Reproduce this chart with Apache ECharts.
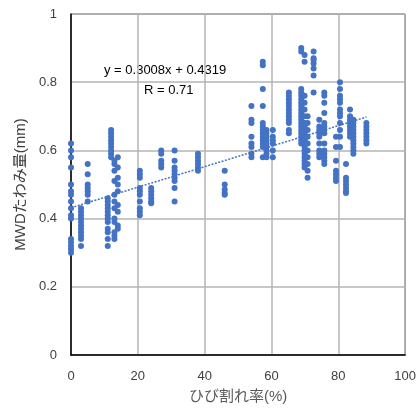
<!DOCTYPE html>
<html><head><meta charset="utf-8">
<script src="https://cdn.jsdelivr.net/npm/echarts@6/dist/echarts.min.js"></script>
<style>html,body{margin:0;padding:0;background:#fff}#c{width:419px;height:415px}</style>
</head><body><div id="c"></div>
<script>
// x positions (ひび割れ率 %) of each column of measurements
const xCols = [0, 3, 5, 11, 12, 13, 14, 20.6, 24, 27, 31, 38, 46, 54, 57.4, 58.5, 60.4, 65.2, 68.9, 69.9, 70.8, 72.6, 74.3, 75.8, 79.3, 80.5, 82.3, 83.5, 84.5, 88.4];
// MWD deflection values (mm) for each column
const yCols = [
  [0.62,0.60,0.58,0.55,0.50,0.48,0.47,0.45,0.43,0.41,0.40,0.34,0.33,0.32,0.31,0.30],
  [0.43,0.42,0.41,0.40,0.39,0.38,0.37,0.36,0.35,0.34,0.32],
  [0.56,0.53,0.50,0.49,0.48,0.47,0.45],
  [0.46,0.45,0.44,0.43,0.42,0.41,0.40,0.39,0.37,0.36,0.34,0.32],
  [0.66,0.65,0.64,0.63,0.62,0.61,0.60,0.59,0.58],
  [0.57,0.56,0.54,0.51,0.47,0.45,0.43,0.40,0.39,0.36,0.35,0.34],
  [0.58,0.55,0.52,0.50,0.48,0.44,0.42,0.38,0.37],
  [0.54,0.53,0.52,0.49,0.48,0.47,0.45,0.43,0.42,0.41],
  [0.49,0.48,0.47,0.46,0.45,0.445],
  [0.60,0.59,0.57,0.56,0.55],
  [0.60,0.57,0.55,0.54,0.53,0.52,0.51,0.49,0.45],
  [0.59,0.58,0.57,0.56,0.55,0.54],
  [0.54,0.50,0.485,0.475,0.47],
  [0.73,0.69,0.68,0.64,0.62,0.61,0.59,0.58],
  [0.86,0.85,0.78,0.73,0.68,0.67,0.66,0.65,0.64,0.63,0.62,0.61,0.58],
  [0.66,0.65,0.64,0.63,0.62,0.61,0.60,0.59,0.58],
  [0.66,0.64,0.63,0.62,0.60,0.58],
  [0.77,0.76,0.75,0.74,0.73,0.72,0.71,0.70,0.69,0.68,0.66,0.65],
  [0.90,0.89,0.78,0.77,0.76,0.75,0.74,0.73,0.72,0.71,0.70,0.69,0.68,0.67,0.66,0.65,0.64,0.63,0.62],
  [0.88,0.86,0.76,0.74,0.72,0.70,0.68,0.67,0.66,0.65,0.64,0.63,0.62,0.61,0.60,0.59,0.58,0.57,0.56,0.55],
  [0.70,0.68,0.66,0.64,0.62,0.60,0.58,0.56,0.54,0.52],
  [0.89,0.87,0.865,0.855,0.84,0.82,0.77],
  [0.69,0.67,0.66,0.65,0.64,0.62,0.60,0.59,0.58],
  [0.77,0.76,0.74,0.71,0.68,0.67,0.66,0.65,0.62,0.60,0.59,0.58,0.57,0.56],
  [0.64,0.61,0.57,0.54,0.53,0.52,0.51],
  [0.80,0.78,0.76,0.75,0.74,0.72,0.71,0.70,0.68,0.66,0.64,0.61],
  [0.56,0.52,0.51,0.50,0.49,0.48,0.475],
  [0.72,0.70,0.69,0.68,0.67,0.66,0.65,0.64],
  [0.69,0.68,0.67,0.66,0.65,0.64,0.63,0.62,0.61,0.60,0.59],
  [0.68,0.67,0.66,0.65,0.64,0.63,0.62]
];
// trendline: y = slope * (x/100) + intercept
const slope = 0.3008, intercept = 0.4319, rValue = 0.71;
const trendRange = [0, 88.4];
const xTicks = [0, 20, 40, 60, 80, 100];
const yTicks = [0, 0.2, 0.4, 0.6, 0.8, 1];

const pts = [];
xCols.forEach((x, i) => yCols[i].forEach(y => pts.push([x, y])));
const trend = trendRange.map(x => [x, slope * x / 100 + intercept]);

const font = "'Liberation Sans', 'Noto Sans CJK JP', sans-serif";
const chart = echarts.init(document.getElementById('c'), null, {renderer: 'canvas'});
chart.setOption({
  animation: false,
  grid: {left: 71, right: 13, top: 14, bottom: 60, show: true, borderColor: '#404040', borderWidth: 1},
  xAxis: {
    type: 'value', min: 0, max: 100, interval: 20,
    name: 'ひび割れ率(%)', nameLocation: 'middle', nameGap: 34,
    nameTextStyle: {color: '#595959', fontSize: 15, fontFamily: font},
    axisLine: {show: true, lineStyle: {color: '#000', width: 1.5}},
    axisTick: {show: false},
    axisLabel: {color: '#404040', fontSize: 13, margin: 15, fontFamily: font},
    splitLine: {show: true, lineStyle: {color: '#b4b4b4', width: 1.5}}
  },
  yAxis: {
    type: 'value', min: 0, max: 1, interval: 0.2,
    name: 'MWDたわみ量(mm)', nameLocation: 'middle', nameGap: 34,
    nameTextStyle: {color: '#404040', fontSize: 15, fontFamily: font},
    axisLine: {show: true, lineStyle: {color: '#000', width: 1.5}},
    axisTick: {show: false},
    axisLabel: {color: '#404040', fontSize: 13, margin: 14, fontFamily: font, formatter: v => String(+v.toFixed(1))},
    splitLine: {show: true, lineStyle: {color: '#b4b4b4', width: 1.5}}
  },
  series: [
    {type: 'scatter', data: pts, symbolSize: 6, itemStyle: {color: '#4472C4', opacity: 1}},
    {type: 'line', data: trend, showSymbol: false, symbol: 'none',
     lineStyle: {color: '#4472C4', width: 1.5, type: [2, 1.5]}}
  ],
  graphic: [
    {type: 'text', left: 104, top: 64, style: {text: 'y = ' + slope + 'x + ' + intercept, fill: '#000', font: '13px ' + font}},
    {type: 'text', left: 144, top: 84, style: {text: 'R = ' + rValue, fill: '#000', font: '13px ' + font}}
  ]
});
</script></body></html>
